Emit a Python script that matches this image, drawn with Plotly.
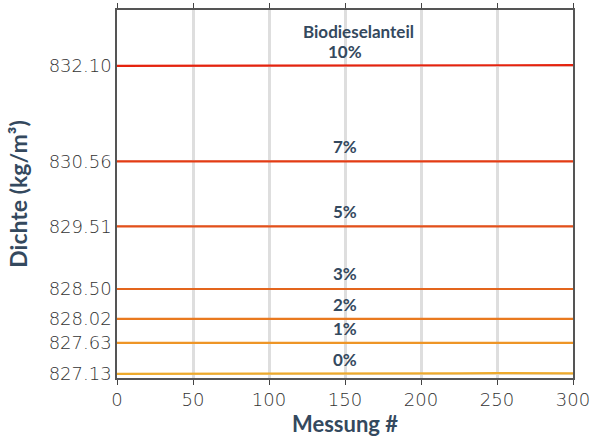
import plotly.graph_objects as go

messung = [0, 25, 50, 75, 100, 125, 150, 175, 200, 225, 250, 275, 300]

anteil_labels = ["0%", "1%", "2%", "3%", "5%", "7%", "10%"]
dichte_0 = [827.13, 827.13, 827.13, 827.135, 827.135, 827.135, 827.135, 827.135, 827.14, 827.14, 827.145, 827.14, 827.14]
dichte_1 = [827.63, 827.63, 827.63, 827.63, 827.63, 827.63, 827.63, 827.63, 827.63, 827.63, 827.63, 827.63, 827.63]
dichte_2 = [828.02, 828.02, 828.02, 828.02, 828.02, 828.02, 828.02, 828.02, 828.02, 828.02, 828.02, 828.02, 828.02]
dichte_3 = [828.50, 828.50, 828.50, 828.50, 828.50, 828.51, 828.51, 828.50, 828.50, 828.50, 828.50, 828.50, 828.50]
dichte_5 = [829.51, 829.51, 829.51, 829.51, 829.51, 829.51, 829.51, 829.51, 829.51, 829.51, 829.51, 829.51, 829.51]
dichte_7 = [830.56, 830.56, 830.56, 830.56, 830.56, 830.56, 830.56, 830.56, 830.56, 830.56, 830.56, 830.56, 830.56]
dichte_10 = [832.10, 832.10, 832.10, 832.10, 832.10, 832.10, 832.10, 832.10, 832.10, 832.10, 832.10, 832.11, 832.11]

series = [dichte_0, dichte_1, dichte_2, dichte_3, dichte_5, dichte_7, dichte_10]
colors = ["#eeaa2c", "#ee9526", "#e9791f", "#e3651d", "#e4501a", "#e43c14", "#e5230e"]

y_ticks = [827.13, 827.63, 828.02, 828.50, 829.51, 830.56, 832.10]
y_ticktext = ["827.13", "827.63", "828.02", "828.50", "829.51", "830.56", "832.10"]
x_ticks = [0, 50, 100, 150, 200, 250, 300]

title_col = "#34495e"
fig = go.Figure()
for name, ys, c in zip(anteil_labels, series, colors):
    fig.add_trace(go.Scatter(x=messung, y=ys, mode="lines", name=name,
                             line=dict(color=c, width=2.2), showlegend=False))

for name, ys in zip(anteil_labels, series):
    fig.add_annotation(x=150, y=ys[6], text="<b>%s</b>" % name, showarrow=False,
                       yanchor="bottom", yshift=2,
                       font=dict(family="Lato", size=17, color=title_col))
fig.add_annotation(x=150, y=dichte_10[6], text="<b>Biodieselanteil</b>", showarrow=False,
                   yanchor="bottom", yshift=22, xshift=13,
                   font=dict(family="Lato", size=17, color=title_col))

axis_font = dict(family="DejaVu Sans", size=18, color="#333333", weight=200)
fig.update_layout(
    width=598, height=437,
    margin=dict(l=117, r=25, t=10, b=59, autoexpand=False),
    plot_bgcolor="white", paper_bgcolor="white",
    xaxis=dict(range=[0, 300], tickvals=x_ticks, ticks="outside", ticklen=5,
               tickcolor="#444", showline=True, linecolor="#555", linewidth=1.5,
               mirror="ticks", showgrid=True, gridcolor="#dedede", gridwidth=3,
               zeroline=False, tickfont=axis_font, automargin=False,
               title=dict(text="<b>Messung #</b>",
                          font=dict(family="Lato", size=22, color=title_col))),
    yaxis=dict(range=[827.065, 833.0], tickvals=y_ticks, ticktext=y_ticktext,
               ticks="", showline=True, linecolor="#555", linewidth=1.5, mirror=True,
               showgrid=True, gridcolor="#e6e6e6", gridwidth=2, zeroline=False,
               tickfont=axis_font, automargin=False,
               title=dict(text="<b>Dichte (kg/m³)</b>",
                          font=dict(family="Lato", size=23, color=title_col))),
)
fig.write_html("out.html", config={"displayModeBar": False},
               post_script="document.body.style.margin='0';")
